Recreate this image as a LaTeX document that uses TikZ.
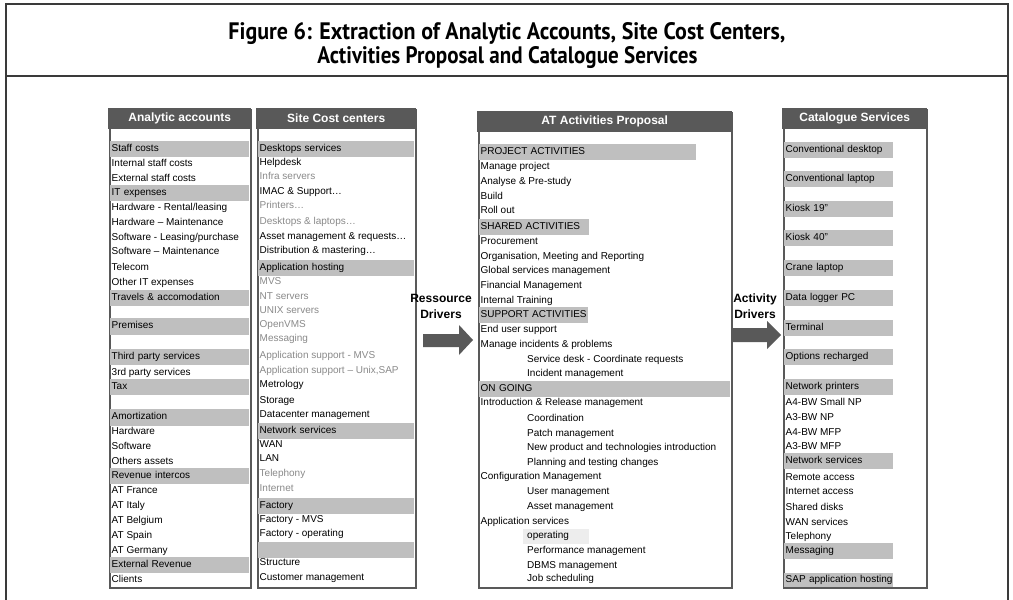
\documentclass[tikz,border=0pt]{standalone}
\usepackage{fontspec}
\setmainfont{Liberation Sans}
\newfontfamily\titlefam{PT Sans}
\definecolor{boxgray}{HTML}{595959}
\definecolor{bandgray}{HTML}{BFBFBF}
\definecolor{lightband}{HTML}{EDEDED}
\definecolor{graytext}{HTML}{8A8A8A}
\definecolor{framegray}{HTML}{3A3A3A}
\newcommand\bodyf{\fontsize{10bp}{12bp}\selectfont}
\newcommand\headf{\fontsize{12bp}{14bp}\selectfont\bfseries}
\newcommand\titlef{\titlefam\fontsize{24bp}{28bp}\selectfont\bfseries}
\tikzset{
  txt/.style={anchor=west, inner xsep=1.5bp, inner ysep=0pt, font=\bodyf, text height=7.5bp, text depth=2.2bp},
  dim/.style={txt, text=graytext},
  band/.style={txt, fill=bandgray, minimum height=15.5bp, text width=#1},
  lband/.style={txt, fill=lightband, inner xsep=4bp, minimum height=15bp, text width=#1},
  boxframe/.style={draw=boxgray, line width=2bp, fill=white, anchor=north west, inner sep=0pt},
  header/.style={fill=boxgray, anchor=north west, inner sep=0pt, text=white, font=\headf, minimum height=21bp},
  drvlabel/.style={font=\fontsize{12bp}{16bp}\selectfont\bfseries, align=center, inner sep=0pt},
  titlest/.style={font=\titlef, inner sep=0pt},
  framest/.style={draw=framegray, line width=1.3bp},
  blockarrow/.style={fill=boxgray},
}
\begin{document}
\begin{tikzpicture}[x=1bp,y=-1bp]
\useasboundingbox (0,0) rectangle (1013,600);
% outer frame and title
\draw[framest] (6,602) -- (6,4) -- (1008,4) -- (1008,602);
\draw[framest] (6,76) -- (1008,76);
\node[titlest] (title1) at (507,34) {\resizebox{557bp}{17bp}{Figure 6: Extraction of Analytic Accounts, Site Cost Centers,}};
\node[titlest] (title2) at (507.5,58) {\resizebox{380bp}{17bp}{Activities Proposal and Catalogue Services}};

% boxes
\node[boxframe, minimum width=141bp, minimum height=478bp] (boxA) at (109,109) {};
\node[boxframe, minimum width=158bp, minimum height=478bp] (boxB) at (257,109) {};
\node[boxframe, minimum width=253bp, minimum height=475bp] (boxC) at (478,112) {};
\node[boxframe, minimum width=143bp, minimum height=478bp] (boxD) at (783,109) {};
\node[header, minimum width=143bp] (hdA) at (108,108) {Analytic accounts};
\node[header, minimum width=160bp] (hdB) at (256,108) {Site Cost centers};
\node[header, minimum width=255bp] (hdC) at (477,111) {AT Activities Proposal};
\node[header, minimum width=145bp] (hdD) at (782,108) {Catalogue Services};

% Analytic accounts
\node[band=136bp] (a1) at (110,149) {Staff costs};
\node[txt] (a2) at (110,164) {Internal staff costs};
\node[txt] (a3) at (110,179) {External staff costs};
\node[band=136bp] (a4) at (110,193) {IT expenses};
\node[txt] (a5) at (110,208) {Hardware - Rental/leasing};
\node[txt] (a6) at (110,223) {Hardware – Maintenance};
\node[txt] (a7) at (110,238) {Software - Leasing/purchase};
\node[txt] (a8) at (110,252) {Software – Maintenance};
\node[txt] (a9) at (110,268) {Telecom};
\node[txt] (a10) at (110,283) {Other IT expenses};
\node[band=136bp] (a11) at (110,298) {Travels \& accomodation};
\node[band=136bp, minimum height=17bp] (a12) at (110,326) {Premises};
\node[band=136bp] (a13) at (110,357) {Third party services};
\node[txt] (a14) at (110,373) {3rd party services};
\node[band=136bp] (a15) at (110,387) {Tax};
\node[band=136bp, minimum height=17bp] (a16) at (110,417) {Amortization};
\node[txt] (a17) at (110,432) {Hardware};
\node[txt] (a18) at (110,447) {Software};
\node[txt] (a19) at (110,462) {Others assets};
\node[band=136bp] (a20) at (110,476) {Revenue intercos};
\node[txt] (a21) at (110,491) {AT France};
\node[txt] (a22) at (110,506) {AT Italy};
\node[txt] (a23) at (110,521) {AT Belgium};
\node[txt] (a24) at (110,536) {AT Spain};
\node[txt] (a25) at (110,551) {AT Germany};
\node[band=136bp] (a26) at (110,565) {External Revenue};
\node[txt] (a27) at (110,580) {Clients};

% Site cost centers
\node[band=153bp] (b1) at (258,149) {Desktops services};
\node[txt] (b2) at (258,163) {Helpdesk};
\node[dim] (b3) at (258,177) {Infra servers};
\node[txt] (b4) at (258,192) {IMAC \& Support…};
\node[dim] (b5) at (258,206) {Printers…};
\node[dim] (b6) at (258,222) {Desktops \& laptops…};
\node[txt] (b7) at (258,237) {Asset management \& requests…};
\node[txt] (b8) at (258,251) {Distribution \& mastering…};
\node[band=153bp] (b9) at (258,268) {Application hosting};
\node[dim] (b10) at (258,282) {MVS};
\node[dim] (b11) at (258,297) {NT servers};
\node[dim] (b12) at (258,311) {UNIX servers};
\node[dim] (b13) at (258,325) {OpenVMS};
\node[dim] (b14) at (258,339) {Messaging};
\node[dim] (b15) at (258,356) {Application support - MVS};
\node[dim] (b16) at (258,371) {Application support – Unix,SAP};
\node[txt] (b17) at (258,385) {Metrology};
\node[txt] (b18) at (258,401) {Storage};
\node[txt] (b19) at (258,415) {Datacenter management};
\node[band=153bp] (b20) at (258,431) {Network services};
\node[txt] (b21) at (258,445) {WAN};
\node[txt] (b22) at (258,459) {LAN};
\node[dim] (b23) at (258,474) {Telephony};
\node[dim] (b24) at (258,489) {Internet};
\node[band=153bp] (b25) at (258,506) {Factory};
\node[txt] (b26) at (258,520) {Factory - MVS};
\node[txt] (b27) at (258,534) {Factory - operating};
\node[band=153bp, minimum height=16bp] (b28) at (258,550) {};
\node[txt] (b29) at (258,563) {Structure};
\node[txt] (b30) at (258,578) {Customer management};

% AT Activities Proposal
\node[band=214bp] (c1) at (479,152) {PROJECT ACTIVITIES};
\node[txt] (c2) at (479,167) {Manage project};
\node[txt] (c3) at (479,182) {Analyse \& Pre-study};
\node[txt] (c4) at (479,197) {Build};
\node[txt] (c5) at (479,211) {Roll out};
\node[band=107bp] (c6) at (479,227) {SHARED ACTIVITIES};
\node[txt] (c7) at (479,242) {Procurement};
\node[txt] (c8) at (479,257) {Organisation, Meeting and Reporting};
\node[txt] (c9) at (479,271) {Global services management};
\node[txt] (c10) at (479,286) {Financial Management};
\node[txt] (c11) at (479,301) {Internal Training};
\node[band=106bp] (c12) at (479,315) {SUPPORT ACTIVITIES};
\node[txt] (c13) at (479,330) {End user support};
\node[txt] (c14) at (479,345) {Manage incidents \& problems};
\node[txt] (c15) at (525.5,360) {Service desk - Coordinate requests};
\node[txt] (c16) at (525.5,374) {Incident management};
\node[band=248bp] (c17) at (479,389) {ON GOING};
\node[txt] (c18) at (479,403) {Introduction \& Release management};
\node[txt] (c19) at (525.5,419) {Coordination};
\node[txt] (c20) at (525.5,434) {Patch management};
\node[txt] (c21) at (525.5,448) {New product and technologies introduction};
\node[txt] (c22) at (525.5,463) {Planning and testing changes};
\node[txt] (c23) at (479,477) {Configuration Management};
\node[txt] (c24) at (525.5,492) {User management};
\node[txt] (c25) at (525.5,507) {Asset management};
\node[txt] (c26) at (479,522) {Application services};
\node[lband=58bp] (c27) at (523,536) {operating};
\node[txt] (c28) at (525.5,551) {Performance management};
\node[txt] (c29) at (525.5,566) {DBMS management};
\node[txt] (c30) at (525.5,579) {Job scheduling};

% Catalogue Services
\node[band=106bp] (d1) at (784,150) {Conventional desktop};
\node[band=106bp] (d2) at (784,179) {Conventional laptop};
\node[band=106bp] (d3) at (784,209) {Kiosk 19"};
\node[band=106bp] (d4) at (784,238) {Kiosk 40"};
\node[band=106bp] (d5) at (784,268) {Crane laptop};
\node[band=106bp] (d6) at (784,298) {Data logger PC};
\node[band=106bp] (d7) at (784,328) {Terminal};
\node[band=106bp] (d8) at (784,357) {Options recharged};
\node[band=106bp] (d9) at (784,387) {Network printers};
\node[txt] (d10) at (784,403) {A4-BW Small NP};
\node[txt] (d11) at (784,418) {A3-BW NP};
\node[txt] (d12) at (784,433) {A4-BW MFP};
\node[txt] (d13) at (784,447) {A3-BW MFP};
\node[band=106bp] (d14) at (784,461) {Network services};
\node[txt] (d15) at (784,478) {Remote access};
\node[txt] (d16) at (784,492) {Internet access};
\node[txt] (d17) at (784,508) {Shared disks};
\node[txt] (d18) at (784,523) {WAN services};
\node[txt] (d19) at (784,537) {Telephony};
\node[band=106bp] (d20) at (784,551) {Messaging};
\node[band=106bp, minimum height=14bp] (d21) at (784,580) {\hbox{SAP application hosting}};

% drivers
\node[drvlabel] (rdrv) at (441,306) {Ressource\\Drivers};
\node[drvlabel] (adrv) at (755,306.5) {Activity\\Drivers};
\fill[blockarrow] (423,334) -- (459,334) -- (459,325) -- (473,340) -- (459,355) -- (459,347) -- (423,347) -- cycle;
\fill[blockarrow] (733,328) -- (767,328) -- (767,321) -- (781,335) -- (767,349) -- (767,342) -- (733,342) -- cycle;
\end{tikzpicture}
\end{document}
